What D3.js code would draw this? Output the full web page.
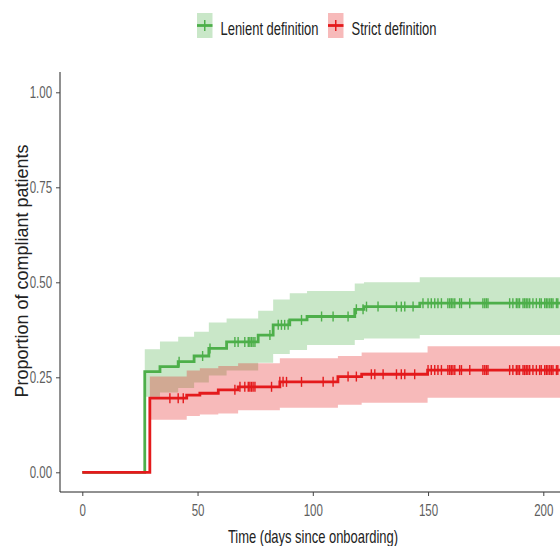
<!DOCTYPE html>
<html lang="en">

<head>
    <meta charset="UTF-8">
    <title>Compliance over time</title>
    <script src="https://d3js.org/d3.v7.min.js"></script>
    <style>
      body { margin: 0; background: #fff; }
      text { font-family: "Liberation Sans", Arial, sans-serif; }
    </style>
</head>

<body>
    <svg id="chart" width="560" height="546"></svg>
    <script>
      // step times (days) and cumulative proportion, with 95% band
      const greenTime = [27.1, 33.7, 41.6, 48.5, 54.9, 62.6, 76.3, 82.8, 90.0, 97.5, 118.2, 122.2, 146.4];
      const greenEst  = [0.265, 0.278, 0.291, 0.306, 0.326, 0.343, 0.361, 0.388, 0.401, 0.410, 0.429, 0.436, 0.445];
      const greenLow  = [0.199, 0.210, 0.222, 0.236, 0.255, 0.268, 0.288, 0.311, 0.322, 0.335, 0.348, 0.352, 0.361];
      const greenHigh = [0.324, 0.344, 0.357, 0.370, 0.394, 0.405, 0.425, 0.455, 0.471, 0.477, 0.497, 0.500, 0.513];

      const redTime = [29.3, 45.3, 51.0, 59.0, 67.6, 85.7, 110.9, 121.2, 149.8];
      const redEst  = [0.195, 0.203, 0.208, 0.217, 0.225, 0.238, 0.252, 0.258, 0.269];
      const redLow  = [0.138, 0.148, 0.152, 0.155, 0.163, 0.170, 0.178, 0.183, 0.196];
      const redHigh = [0.252, 0.268, 0.274, 0.280, 0.287, 0.300, 0.306, 0.315, 0.332];

      // censored times (the + marks)
      const lateCensor = [158.6, 159.4, 160.1, 160.8, 161.6, 163.7, 164.5, 168.1, 173.8, 174.6, 175.3, 176.0,
        185.4, 186.8, 188.3, 189.0, 189.7, 191.2, 191.9, 192.6, 193.3, 194.1, 195.5, 197.0, 198.4, 199.1,
        200.6, 201.3, 202.0, 202.8, 203.5, 204.2, 205.7, 206.3];
      const greenCensor = [42.0, 52.2, 55.4, 66.2, 67.6, 70.5, 72.0, 72.7, 73.4, 74.1, 74.9, 81.4, 85.0, 86.4,
        87.8, 89.3, 95.1, 103.8, 108.8, 115.3, 118.9, 121.8, 123.3, 128.3, 136.3, 138.4, 139.9, 143.5,
        147.8, 150.0, 151.4, 152.9, 154.3, 155.8].concat(lateCensor);
      const redCensor = [38.0, 41.6, 43.8, 66.2, 68.4, 70.5, 72.0, 72.7, 73.4, 74.1, 74.9, 82.1, 85.7, 87.1,
        88.6, 95.1, 104.5, 108.8, 115.3, 118.9, 125.4, 126.9, 130.5, 136.3, 138.4, 139.9, 144.2,
        150.0, 151.4, 152.9, 154.3, 155.8].concat(lateCensor);

      const endTime = 215;
      const xTicks = [0, 50, 100, 150, 200];
      const yTicks = [0, 0.25, 0.5, 0.75, 1];
      const yTickLabels = ["0.00", "0.25", "0.50", "0.75", "1.00"];
      const legendLabels = ["Lenient definition", "Strict definition"];

      const green = "#4daf4a";
      const red = "#e41a1c";
      const squeeze = "scale(0.72,1)";

      const svg = d3.select("#chart");

      // panel edges
      const panelLeft = 60, panelTop = 72, panelBottom = 492;

      const x = d3.scaleLinear().domain([0, 200]).range([82.3, 543.3]);
      const y = d3.scaleLinear().domain([0, 1]).range([472.3, 92.3]);

      svg.append("clipPath").attr("id", "panel")
        .append("rect").attr("x", panelLeft).attr("y", panelTop)
        .attr("width", 560 - panelLeft).attr("height", panelBottom - panelTop);

      const plot = svg.append("g").attr("clip-path", "url(#panel)");

      const series = [
        { time: greenTime, est: greenEst, low: greenLow, high: greenHigh, censor: greenCensor, color: green },
        { time: redTime, est: redEst, low: redLow, high: redHigh, censor: redCensor, color: red }
      ];

      const area = d3.area()
        .x(d => x(d.t)).y0(d => y(d.lo)).y1(d => y(d.hi))
        .curve(d3.curveStepAfter);
      const line = d3.line()
        .x(d => x(d.t)).y(d => y(d.v))
        .curve(d3.curveStepAfter);

      series.forEach(s => {
        const band = s.time.map((t, i) => ({ t: t, lo: s.low[i], hi: s.high[i] }));
        band.push({ t: endTime, lo: s.low[s.low.length - 1], hi: s.high[s.high.length - 1] });
        plot.append("path")
          .attr("d", area(band))
          .attr("fill", s.color)
          .attr("fill-opacity", 0.3);
      });

      series.forEach(s => {
        const pts = [{ t: 0, v: 0 }].concat(s.time.map((t, i) => ({ t: t, v: s.est[i] })));
        pts.push({ t: endTime, v: s.est[s.est.length - 1] });
        plot.append("path")
          .attr("d", line(pts))
          .attr("fill", "none")
          .attr("stroke", s.color)
          .attr("stroke-width", 2.8);

        const valueAt = t => {
          const i = d3.bisectRight(s.time, t) - 1;
          return i < 0 ? 0 : s.est[i];
        };
        plot.selectAll(null)
          .data(s.censor)
          .join("line")
          .attr("x1", d => x(d)).attr("x2", d => x(d))
          .attr("y1", d => y(valueAt(d)) - 5)
          .attr("y2", d => y(valueAt(d)) + 5)
          .attr("stroke", s.color)
          .attr("stroke-width", 1.4);
      });

      // axes
      const xAxis = svg.append("g")
        .attr("transform", "translate(0," + panelBottom + ")")
        .call(d3.axisBottom(x).tickValues(xTicks).tickSize(4).tickPadding(9));
      xAxis.select(".domain").attr("d", "M" + panelLeft + ",0H560").attr("stroke", "#222");

      const yAxis = svg.append("g")
        .attr("transform", "translate(" + panelLeft + ",0)")
        .call(d3.axisLeft(y).tickValues(yTicks).tickFormat((d, i) => yTickLabels[i]).tickSize(4).tickPadding(7));
      yAxis.select(".domain").attr("d", "M0," + panelTop + "V" + panelBottom).attr("stroke", "#222");

      svg.selectAll(".tick line").attr("stroke", "#444");
      svg.selectAll(".tick text")
        .attr("font-size", 16)
        .attr("fill", "#5e5e5e")
        .attr("font-family", "Liberation Sans, Arial, sans-serif")
        .attr("transform", squeeze);

      svg.append("text")
        .attr("transform", "translate(313,543) " + squeeze)
        .attr("text-anchor", "middle")
        .attr("font-size", 18)
        .attr("fill", "#222")
        .text("Time (days since onboarding)");

      svg.append("text")
        .attr("transform", "translate(28,271) rotate(-90)")
        .attr("text-anchor", "middle")
        .attr("font-size", 18)
        .attr("fill", "#222")
        .text("Proportion of compliant patients");

      // legend
      const keyX = [197, 328];
      const textX = [220.5, 351.5];
      [green, red].forEach((c, i) => {
        const g = svg.append("g").attr("transform", "translate(" + keyX[i] + ",13)");
        g.append("rect").attr("width", 15.5).attr("height", 25)
          .attr("fill", c).attr("fill-opacity", 0.3);
        g.append("line").attr("x1", 0).attr("x2", 15.5).attr("y1", 12.5).attr("y2", 12.5)
          .attr("stroke", c).attr("stroke-width", 2.8);
        g.append("line").attr("x1", 7.75).attr("x2", 7.75).attr("y1", 7).attr("y2", 18)
          .attr("stroke", c).attr("stroke-width", 1.5);
        svg.append("text")
          .attr("transform", "translate(" + textX[i] + ",35) " + squeeze)
          .attr("font-size", 18)
          .attr("fill", "#222")
          .text(legendLabels[i]);
      });
    </script>
</body>

</html>
